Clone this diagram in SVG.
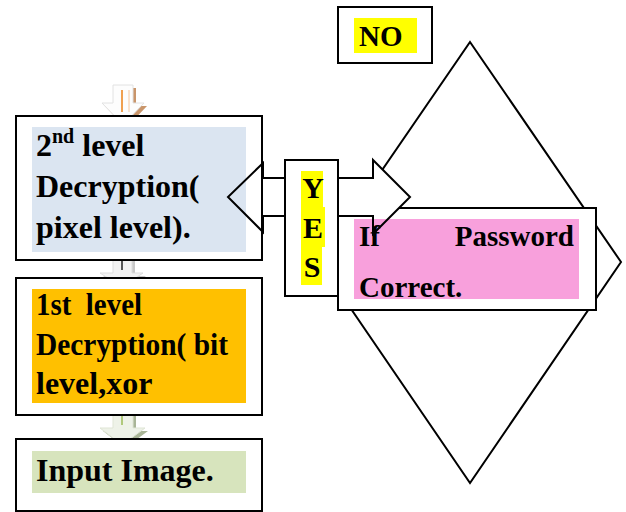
<svg xmlns="http://www.w3.org/2000/svg" width="626" height="512" viewBox="0 0 626 512">
<style>
.box{fill:#fff;stroke:#000;stroke-width:2}
.t{font-family:"Liberation Serif","Times New Roman",serif;font-weight:bold;fill:#000}
.l{font-size:32px}
.r{font-size:29px}
.ln{stroke:#000;stroke-width:2;fill:none;stroke-linejoin:miter}
</style>
<rect width="626" height="512" fill="#fff"/>

<g id="decision">
<polygon points="470,42 621,262 470,483 319,262" fill="#fff" stroke="#000" stroke-width="2"/>
</g>

<g id="condition">
<rect class="box" x="338" y="208" width="258" height="102"/>
</g>

<g id="connectors">
<path id="yes-arrows-fill" d="M228,197 L263,163 L263,178 L285,178 L285,216 L263,216 L263,232 Z M338,178 L373,178 L373,160 L410,197 L373,234 L373,216 L338,216 Z" fill="#fff"/>
<g id="arrow1">
<path d="M116,88 L136,88 L136,106 L147,106 L126,128 L105,106 L116,106 Z" fill="#c9956a"/>
<path d="M113,85 L133,85 L133,103 L144,103 L123,125 L102,103 L113,103 Z" fill="#fdfdfd" stroke="#e2e2e2" stroke-width="1"/>
<line x1="122" y1="90" x2="122" y2="112" stroke="#f0a050" stroke-width="2"/>
<line x1="129" y1="90" x2="129" y2="112" stroke="#f4c8a0" stroke-width="1"/>
</g>
<g id="arrow2">
<path d="M116,255 L135,255 L135,276 L146,276 L125,290 L103,276 L116,276 Z" fill="#c8c8c8"/>
<path d="M113,252 L132,252 L132,273 L143,273 L122,287 L100,273 L113,273 Z" fill="#f2f2f2" stroke="#dddddd" stroke-width="1"/>
<line x1="122" y1="255" x2="122" y2="270" stroke="#222" stroke-width="1.5"/>
</g>
<g id="arrow3">
<path d="M116,408 L136,408 L136,431 L148,431 L125,448 L103,431 L116,431 Z" fill="#a9b597"/>
<path d="M113,405 L133,405 L133,428 L145,428 L122,445 L100,428 L113,428 Z" fill="#eef2e8" stroke="#dfe5d5" stroke-width="1"/>
<line x1="122" y1="410" x2="122" y2="425" stroke="#9bbb59" stroke-width="1.5"/>
</g>
</g>

<g id="box-2nd">
<rect class="box" x="16" y="116" width="246" height="144"/>
<rect x="32" y="127" width="214" height="125" fill="#dbe5f1"/>
<text class="t l" x="36" y="156">2<tspan dy="-13" font-size="20">nd</tspan><tspan dy="13"> level</tspan></text>
<text class="t l" x="36" y="197">Decryption(</text>
<text class="t l" x="36" y="238">pixel level).</text>
</g>

<g id="box-1st">
<rect class="box" x="16" y="278" width="246" height="137"/>
<rect x="32" y="289" width="214" height="114" fill="#ffc000"/>
<text class="t l" x="36" y="315" xml:space="preserve" textLength="106" lengthAdjust="spacingAndGlyphs">1st  level</text>
<text class="t l" x="36" y="355" textLength="192" lengthAdjust="spacingAndGlyphs">Decryption( bit</text>
<text class="t l" x="36" y="394">level,xor</text>
</g>

<g id="box-input">
<rect class="box" x="16" y="439" width="246" height="72"/>
<rect x="32" y="451" width="214" height="42" fill="#d7e4bd"/>
<text class="t l" x="36" y="481">Input Image.</text>
</g>

<g id="condition-text">
<rect x="354" y="219" width="225" height="80" fill="#f8a0dc"/>
<path class="ln" d="M338,216 L373,216 L373,234 L410,197 L373,160 L373,178 L338,178"/>
<path class="ln" d="M285,178 L263,178 L263,163 L228,197 L263,232 L263,216 L285,216"/>
<text class="t r" x="359" y="246">If</text>
<text class="t r" x="574" y="246" text-anchor="end">Password</text>
<text class="t r" x="359" y="297">Correct.</text>
</g>

<g id="yes">
<rect class="box" x="285" y="160" width="53" height="136"/>
<rect x="301" y="171" width="22" height="36" fill="#ffff00"/>
<rect x="301" y="207" width="24" height="40" fill="#ffff00"/>
<rect x="301" y="247" width="21" height="38" fill="#ffff00"/>
<text class="t" font-size="30" x="313" y="198" text-anchor="middle">Y</text>
<text class="t" font-size="30" x="313" y="238" text-anchor="middle">E</text>
<text class="t" font-size="30" x="312" y="277" text-anchor="middle">S</text>
</g>

<g id="no">
<rect class="box" x="338" y="7" width="94" height="56"/>
<rect x="354" y="18" width="63" height="35" fill="#ffff00"/>
<text class="t r" x="359" y="46">NO</text>
</g>
</svg>
